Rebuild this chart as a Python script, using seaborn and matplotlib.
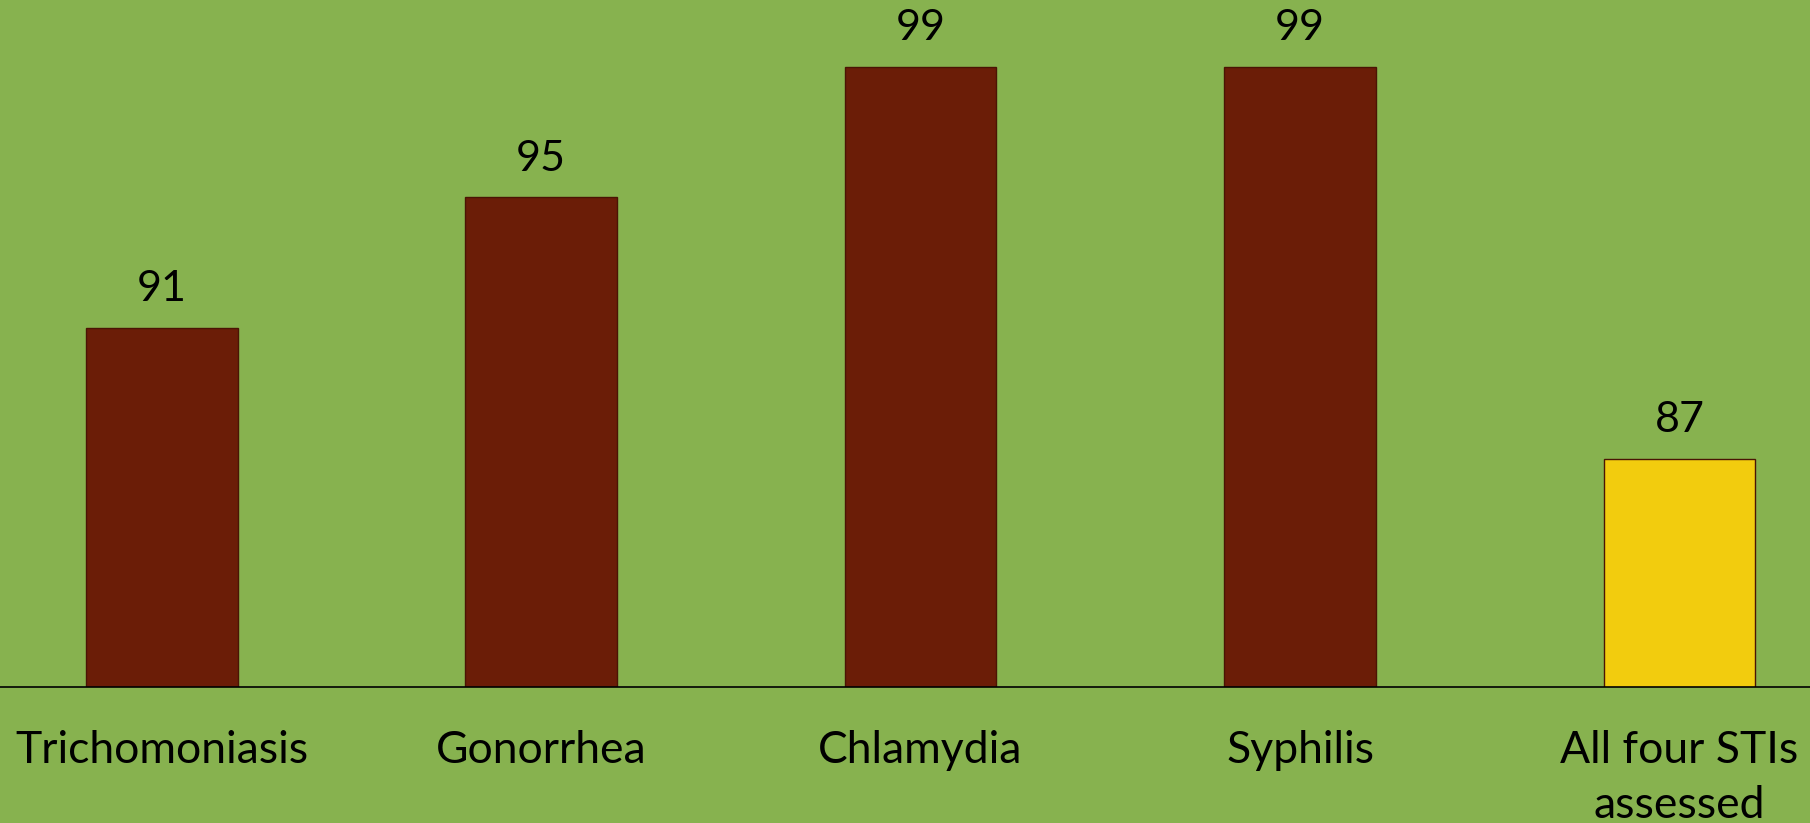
import pandas as pd
import matplotlib.pyplot as plt
import seaborn as sns

# data
categories = ["Trichomoniasis", "Gonorrhea", "Chlamydia", "Syphilis", "All four STIs\nassessed"]
values = [91, 95, 99, 99, 87]
bar_colors = ["#6B1D07", "#6B1D07", "#6B1D07", "#6B1D07", "#F2CC0E"]

BG = "#87B24F"

df = pd.DataFrame({"category": categories, "value": values})

sns.set_style("white")
plt.rcParams["font.family"] = ["Lato", "DejaVu Sans"]

fig = plt.figure(figsize=(18.1, 8.23), dpi=100, facecolor=BG)
ax = fig.add_axes([0, 1 - 687 / 823, 1, 687 / 823])
ax.set_facecolor(BG)

sns.barplot(data=df, x="category", y="value", hue="category", palette=bar_colors,
            saturation=1, legend=False, width=0.4, ax=ax,
            edgecolor="#4a1404", linewidth=1.0)

ax.set_ylim(80, 101.05)
ax.set_xlim(-0.426, 4.344)

for p, v in zip(ax.patches, values):
    ax.annotate(str(v), (p.get_x() + p.get_width() / 2, v), xytext=(0, 28),
                textcoords="offset points", ha="center", va="center", fontsize=31, color="black")

ax.set_xlabel("")
ax.set_ylabel("")
ax.set_yticks([])
ax.tick_params(axis="x", length=0, pad=31, labelsize=32, colors="black")
ax.set_xticks(range(len(categories)))
ax.set_xticklabels(categories, linespacing=1.42)
for s in ["top", "left", "right"]:
    ax.spines[s].set_visible(False)
ax.spines["bottom"].set_color("black")
ax.spines["bottom"].set_linewidth(1.2)
ax.spines["bottom"].set_zorder(5)

fig.savefig("out.png", dpi=100, facecolor=BG)
